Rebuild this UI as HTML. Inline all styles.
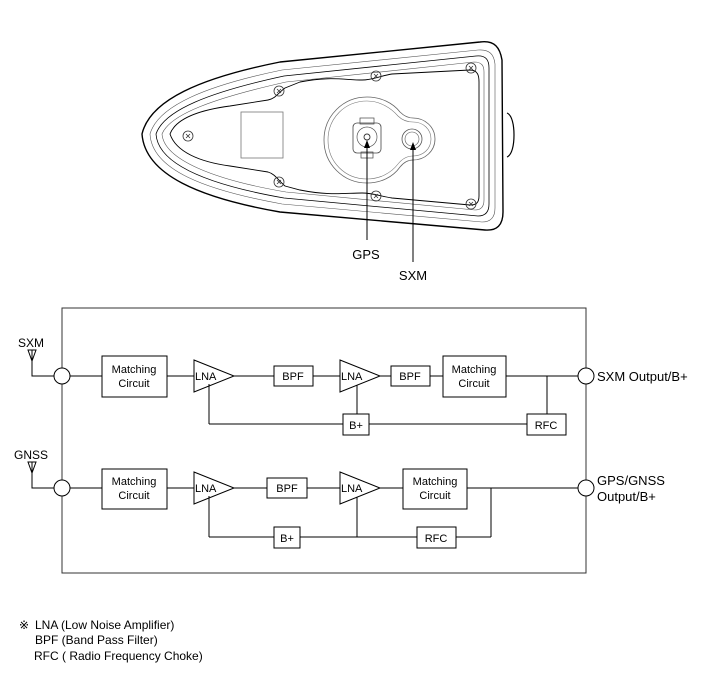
<!DOCTYPE html>
<html><head><meta charset="utf-8"><style>
html,body{margin:0;padding:0;background:#fff;}
svg{display:block;}
text{font-family:"Liberation Sans",Arial,sans-serif;fill:#000;}
</style></head><body>
<svg width="703" height="679" viewBox="0 0 703 679" xmlns="http://www.w3.org/2000/svg">
<g fill="none" stroke="#000">
<path d="M142,134 C150,100 200,78 280,62 L480,42 C495,40 500,48 502,60 L503,212 C503,225 497,231 485,230 L280,212 C200,198 145,175 142,134 Z" stroke-width="1.4"/>
<path d="M150,134 C158,106 205,86 282,70 L478,50 C490,49 494,55 495,64 L495,208 C495,218 490,222 482,222 L282,204 C205,190 152,170 150,134 Z" stroke-width="0.6" stroke="#555"/>
<path d="M156,134 C164,110 210,92 284,76 L476,56 C486,55 489,60 489,68 L489,204 C489,212 485,216 478,216 L284,198 C210,185 158,165 156,134 Z" stroke-width="0.8"/>
<path d="M162,134 C170,114 215,98 286,82 L474,62 C482,62 484,66 484,72 L484,200 C484,207 481,210 475,210 L286,192 C215,180 164,160 162,134 Z" stroke-width="0.6" stroke="#555"/>
<path d="M170,134 C176,118 200,110 230,106 L268,100 C275,99 278,93 285,88 L300,82 C330,76 345,80 362,80 C372,80 380,76 392,74 L470,70 C478,70 479,76 479,82 L479,196 C479,203 476,205 470,205 L392,198 C380,196 372,193 362,193 C345,193 330,196 300,190 L285,186 C278,180 275,174 268,172 L230,166 C200,162 176,152 170,134 Z" stroke-width="0.9"/>
<path d="M507,113 C512,115 514,125 514,135 C514,145 512,155 507,157" stroke-width="1.2"/>
<rect x="241" y="112" width="42" height="46" stroke="#777" stroke-width="0.8"/>
<path d="M400,112 C393,103 381,97 367,97 C343,97 324,116 324,140 C324,164 343,183 367,183 C381,183 393,177 400,167 C404,162 408,160 413,160 C425,160 435,151 435,139 C435,127 425,118 413,118 C408,118 404,116 400,112 Z" stroke="#666" stroke-width="0.8"/>
<path d="M398,116 C391,108 380,101 367,101 C345,101 328,118 328,140 C328,162 345,179 367,179 C380,179 391,173 398,164 C402,159 407,156 413,156 C423,156 431,149 431,139 C431,129 423,122 413,122 C407,122 402,120 398,116 Z" stroke="#777" stroke-width="0.6"/>
<rect x="353" y="123" width="28" height="30" rx="4" stroke="#444" stroke-width="0.8"/>
<rect x="360" y="118" width="14" height="6" stroke="#444" stroke-width="0.7"/>
<rect x="361" y="152" width="12" height="6" stroke="#444" stroke-width="0.7"/>
<circle cx="367" cy="137" r="10" stroke="#555" stroke-width="0.7"/>
<circle cx="367" cy="137" r="3" stroke="#333" stroke-width="0.9"/>
<circle cx="412" cy="139" r="10" stroke="#555" stroke-width="0.8"/>
<circle cx="412" cy="139" r="7" stroke="#555" stroke-width="0.6"/>
</g>
<g fill="none" stroke="#333" stroke-width="0.8">
<circle cx="188" cy="136" r="5"/><circle cx="279" cy="91" r="5"/><circle cx="376" cy="76" r="5"/><circle cx="471" cy="68" r="5"/>
<circle cx="279" cy="182" r="5"/><circle cx="376" cy="196" r="5"/><circle cx="471" cy="204" r="5"/>
<path d="M186,134l4,4M190,134l-4,4M277,89l4,4M281,89l-4,4M374,74l4,4M378,74l-4,4M469,66l4,4M473,66l-4,4M277,180l4,4M281,180l-4,4M374,194l4,4M378,194l-4,4M469,202l4,4M473,202l-4,4"/>
</g>
<g stroke="#000" stroke-width="1">
<line x1="367" y1="146" x2="367" y2="240"/>
<line x1="413" y1="148" x2="413" y2="262"/>
</g>
<path d="M367,140 L364,148 L370,148 Z M413,142 L410,150 L416,150 Z" fill="#000"/>
<text x="366" y="259" font-size="13" text-anchor="middle">GPS</text>
<text x="413" y="280" font-size="13" text-anchor="middle">SXM</text>

<g fill="none" stroke="#000" stroke-width="1">
<rect x="62" y="308" width="524" height="265" stroke="#333"/>
<path d="M28,350 L36,350 L32,361 Z M32,350 L32,376 L54,376"/>
<line x1="70" y1="376" x2="102" y2="376"/>
<rect x="102" y="356" width="65" height="41"/>
<line x1="167" y1="376" x2="194" y2="376"/>
<path d="M194,360 L234,376 L194,392 Z"/>
<line x1="234" y1="376" x2="274" y2="376"/>
<rect x="274" y="366" width="39" height="20"/>
<line x1="313" y1="376" x2="340" y2="376"/>
<path d="M340,360 L380,376 L340,392 Z"/>
<line x1="380" y1="376" x2="391" y2="376"/>
<rect x="391" y="366" width="39" height="20"/>
<line x1="430" y1="376" x2="443" y2="376"/>
<rect x="443" y="356" width="63" height="41"/>
<line x1="506" y1="376" x2="578" y2="376"/>
<line x1="547" y1="376" x2="547" y2="414"/>
<rect x="527" y="414" width="39" height="21"/>
<line x1="209" y1="384" x2="209" y2="424"/>
<line x1="209" y1="424" x2="343" y2="424"/>
<rect x="343" y="414" width="26" height="21"/>
<line x1="369" y1="424" x2="527" y2="424"/>
<line x1="357" y1="385" x2="357" y2="414"/>
<path d="M28,462 L36,462 L32,473 Z M32,462 L32,488 L54,488"/>
<line x1="70" y1="488" x2="102" y2="488"/>
<rect x="102" y="469" width="65" height="40"/>
<line x1="167" y1="488" x2="194" y2="488"/>
<path d="M194,472 L234,488 L194,504 Z"/>
<line x1="234" y1="488" x2="267" y2="488"/>
<rect x="267" y="478" width="40" height="20"/>
<line x1="307" y1="488" x2="340" y2="488"/>
<path d="M340,472 L380,488 L340,504 Z"/>
<line x1="380" y1="488" x2="403" y2="488"/>
<rect x="403" y="469" width="64" height="40"/>
<line x1="467" y1="488" x2="578" y2="488"/>
<line x1="491" y1="488" x2="491" y2="537"/>
<line x1="456" y1="537" x2="491" y2="537"/>
<rect x="417" y="527" width="39" height="21"/>
<line x1="209" y1="496" x2="209" y2="537"/>
<line x1="209" y1="537" x2="274" y2="537"/>
<rect x="274" y="527" width="26" height="21"/>
<line x1="300" y1="537" x2="417" y2="537"/>
<line x1="357" y1="497" x2="357" y2="537"/>
</g>
<g fill="#fff" stroke="#000" stroke-width="1">
<circle cx="62" cy="376" r="8"/><circle cx="62" cy="488" r="8"/>
<circle cx="586" cy="376" r="8"/><circle cx="586" cy="488" r="8"/>
</g>
<g font-size="12">
<text x="18" y="347">SXM</text>
<text x="14" y="459">GNSS</text>
<text x="597" y="381" font-size="13">SXM Output/B+</text>
<text x="597" y="485" font-size="13">GPS/GNSS</text>
<text x="597" y="501" font-size="13">Output/B+</text>
</g>
<g font-size="11" text-anchor="middle">
<text x="134" y="373">Matching</text><text x="134" y="387">Circuit</text>
<text x="474" y="373">Matching</text><text x="474" y="387">Circuit</text>
<text x="134" y="485">Matching</text><text x="134" y="499">Circuit</text>
<text x="435" y="485">Matching</text><text x="435" y="499">Circuit</text>
<text x="293" y="380">BPF</text><text x="410" y="380">BPF</text><text x="287" y="492">BPF</text>
<text x="356" y="429">B+</text><text x="287" y="542">B+</text>
<text x="546" y="429">RFC</text><text x="436" y="542">RFC</text>
</g>
<g font-size="11">
<text x="195" y="380">LNA</text><text x="341" y="380">LNA</text>
<text x="195" y="492">LNA</text><text x="341" y="492">LNA</text>
</g>
<g font-size="12">
<text x="19" y="629">※</text>
<text x="35" y="629">LNA (Low Noise Amplifier)</text>
<text x="35" y="644">BPF (Band Pass Filter)</text>
<text x="34" y="660">RFC ( Radio Frequency Choke)</text>
</g>
</svg>
</body></html>
